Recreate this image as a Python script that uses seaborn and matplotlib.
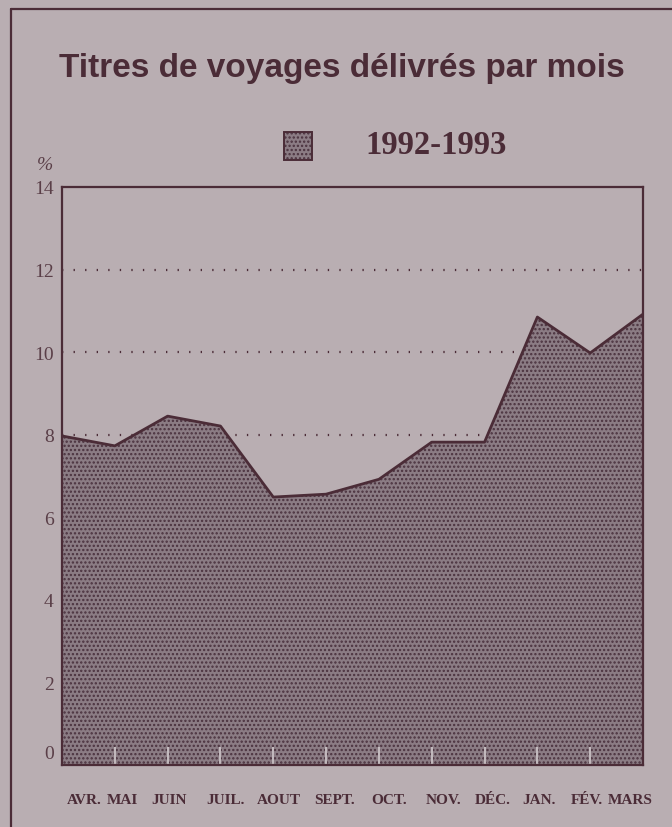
import matplotlib
matplotlib.use("Agg")
import matplotlib.pyplot as plt
from matplotlib.patches import Rectangle
from matplotlib.lines import Line2D
from matplotlib.transforms import ScaledTranslation
import seaborn as sns
import pandas as pd

# Monthly share of travel tickets issued, 1992-1993 (%)
months = ["AVR.", "MAI", "JUIN", "JUIL.", "AOUT", "SEPT.", "OCT.",
          "NOV.", "DÉC.", "JAN.", "FÉV.", "MARS"]
share = [7.97, 7.73, 8.45, 8.21, 6.49, 6.56, 6.92, 7.82, 7.82, 10.85, 9.98, 10.92]
y_ticks = [0, 2, 4, 6, 8, 10, 12, 14]
grid_levels = [8, 10, 12]

# hand-set horizontal nudges of the month labels (pixels), as in the original
label_nudge_px = [22, 8, 1, 5, 6, 8, 10, 12, 8, 2, -3, -13]

BG = "#b9aeb2"
INK = "#4b2c37"
FILL = "#8b7c84"
DOTS = "#4a323e"

sns.set_style("white", {"axes.facecolor": BG, "figure.facecolor": BG})
plt.rcParams["hatch.linewidth"] = 1.1

df = pd.DataFrame({"pos": range(len(months)), "share": share})

fig = plt.figure(figsize=(6.72, 8.28), dpi=100)
ax = fig.add_axes([62 / 672, 1 - 766 / 828, 581 / 672, 578 / 828])
ax.set_axisbelow(False)

# dotted reference lines sit behind the filled area
for lvl in grid_levels:
    ax.axhline(lvl, color=INK, lw=1.6, ls=(0, (0.6, 4.6)), zorder=1)

ax.fill_between(df["pos"], df["share"], 0, facecolor=FILL, edgecolor=DOTS,
                hatch="....", lw=0, zorder=2)
sns.lineplot(data=df, x="pos", y="share", color=INK, lw=2, ax=ax, zorder=3)

ax.set_xlim(0, len(months) - 1)
ax.set_ylim(0, 14)
ax.set_xlabel("")
ax.set_ylabel("")

ax.set_xticks(range(len(months)))
ax.set_xticklabels(months, fontfamily="Liberation Serif", fontweight="bold",
                   fontsize=11, color=INK)
ax.tick_params(axis="x", bottom=True, direction="in", length=13, width=1.4,
               color="#c4bbbf", pad=20)
for lab, dx in zip(ax.get_xticklabels(), label_nudge_px):
    lab.set_transform(lab.get_transform() + ScaledTranslation(dx / 100, 0, fig.dpi_scale_trans))

ax.set_yticks(y_ticks)
ax.set_yticklabels([str(v) for v in y_ticks], fontfamily="Liberation Serif",
                   fontsize=14, color="#5a3f48")
ax.tick_params(axis="y", left=False, length=0, pad=6)
zero = ax.get_yticklabels()[0]
zero.set_transform(zero.get_transform() + ScaledTranslation(0, 13 / 100, fig.dpi_scale_trans))

for sp in ax.spines.values():
    sp.set_visible(True)
    sp.set_color(INK)
    sp.set_linewidth(1.6)
    sp.set_zorder(4)

# outer frame of the page (cut at right/bottom edge)
fig.add_artist(Line2D([11 / 672, 11 / 672], [0, 1 - 10 / 828],
                      transform=fig.transFigure, color=INK, lw=1.6))
fig.add_artist(Line2D([11 / 672, 1], [1 - 10 / 828, 1 - 10 / 828],
                      transform=fig.transFigure, color=INK, lw=1.6))

fig.text(342 / 672, 1 - 68 / 828, "Titres de voyages délivrés par mois",
         ha="center", va="center", fontfamily="Liberation Sans",
         fontweight="bold", fontsize=24, color=INK)

# legend
fig.add_artist(Rectangle((284 / 672, 1 - 161 / 828), 28 / 672, 28 / 828,
                         transform=fig.transFigure, facecolor=FILL,
                         edgecolor=DOTS, hatch="....", lw=0))
fig.add_artist(Rectangle((284 / 672, 1 - 161 / 828), 28 / 672, 28 / 828,
                         transform=fig.transFigure, facecolor="none",
                         edgecolor=INK, lw=1.4))
fig.text(365 / 672, 1 - 145 / 828, "1992-1993", ha="left", va="center",
         fontfamily="Liberation Serif", fontweight="bold", fontsize=23.5,
         color=INK)

fig.text(45 / 672, 1 - 166 / 828, "%", ha="center", va="center",
         fontfamily="Liberation Serif", fontstyle="italic", fontsize=14,
         color="#5a3f48")

fig.savefig("out.png", dpi=100)
